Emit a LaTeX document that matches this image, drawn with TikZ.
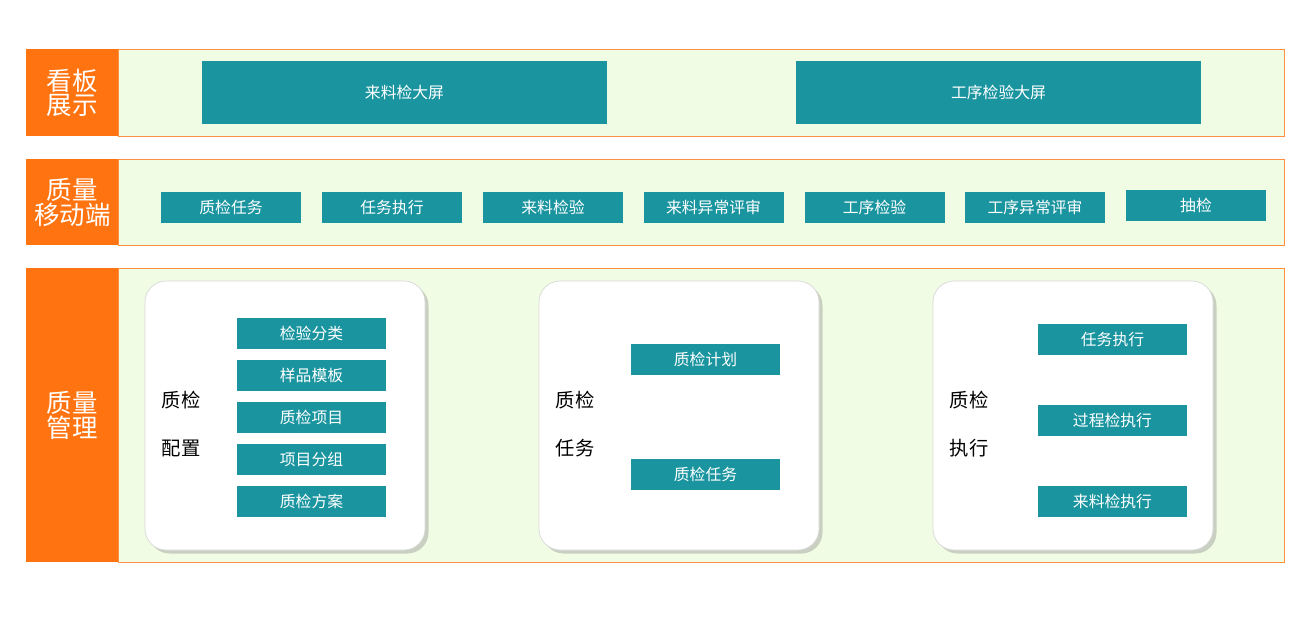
\documentclass[tikz,border=0pt]{standalone}
\usepackage{fontspec}
\setmainfont{Noto Sans CJK SC}
\usetikzlibrary{positioning,shadows}
\definecolor{qorange}{HTML}{FF7410}
\definecolor{qteal}{HTML}{1A95A0}
\definecolor{qpanel}{HTML}{F1FCE5}
\begin{document}
\begin{tikzpicture}[x=0.02cm,y=-0.02cm]

% set style here
\tikzset{
  tag/.style={fill=qorange,text=white,font=\fontsize{14.5}{17}\selectfont,align=center,anchor=north west,inner sep=0pt},
  panel/.style={draw=qorange!80,fill=qpanel,line width=0.5pt},
  item/.style={fill=qteal,text=white,font=\fontsize{9}{11}\selectfont,inner sep=0pt},
  card/.style={draw=gray!30,fill=white,rounded corners=12pt,drop shadow={shadow xshift=2pt,shadow yshift=-2pt,opacity=0.35}},
  cardtxt/.style={font=\fontsize{11}{13}\selectfont}
}
\useasboundingbox (0,0) rectangle (1314,622);

% panels
\draw[panel] (118,49) rectangle (1284,136);
\draw[panel] (118,159) rectangle (1284,245);
\draw[panel] (118,268) rectangle (1284,562);
\node (t1) [tag,minimum width=92*0.02cm,minimum height=87*0.02cm] at (26,49) {看板\\[-3pt]展示};
\node (t2) [tag,minimum width=92*0.02cm,minimum height=86*0.02cm] at (26,159) {质量\\[-3pt]移动端};
\node (t3) [tag,minimum width=92*0.02cm,minimum height=294*0.02cm] at (26,268) {质量\\[-3pt]管理};

% board
\node (b1) [item,minimum width=405*0.02cm,minimum height=63*0.02cm] at (404.5,92.5) {来料检大屏};
\node (b2) [item,minimum width=405*0.02cm,minimum height=63*0.02cm] at (998.5,92.5) {工序检验大屏};

% mobile
\foreach \i/\x/\t in {1/231/质检任务,2/392/任务执行,3/553/来料检验,4/713.5/来料异常评审,5/874.5/工序检验,6/1035/工序异常评审}
  \node (m\i) [item,minimum width=140*0.02cm,minimum height=31*0.02cm] at (\x,207.5) {\t};
\node (m7) [item,minimum width=140*0.02cm,minimum height=31*0.02cm] at (1196,205.5) {抽检};

% cards
\foreach \x in {145,539,933}
  \draw[card] (\x,281) rectangle ++(280,269);
\node (c1a) [cardtxt] at (181,400) {质检};
\node (c1b) [cardtxt] at (181,448) {配置};
\node (c2a) [cardtxt] at (575,400) {质检};
\node (c2b) [cardtxt] at (575,448) {任务};
\node (c3a) [cardtxt] at (969,400) {质检};
\node (c3b) [cardtxt] at (969,448) {执行};

\foreach \i/\y/\t in {1/333.5/检验分类,2/375.5/样品模板,3/417.5/质检项目,4/459.5/项目分组,5/501.5/质检方案}
  \node (p\i) [item,minimum width=149*0.02cm,minimum height=31*0.02cm] at (311.5,\y) {\t};
\node (q1) [item,minimum width=149*0.02cm,minimum height=31*0.02cm] at (705.5,359.5) {质检计划};
\node (q2) [item,minimum width=149*0.02cm,minimum height=31*0.02cm] at (705.5,474.5) {质检任务};
\foreach \i/\y/\t in {1/339.5/任务执行,2/420.5/过程检执行,3/501.5/来料检执行}
  \node (e\i) [item,minimum width=149*0.02cm,minimum height=31*0.02cm] at (1112.5,\y) {\t};

\end{tikzpicture}
\end{document}
